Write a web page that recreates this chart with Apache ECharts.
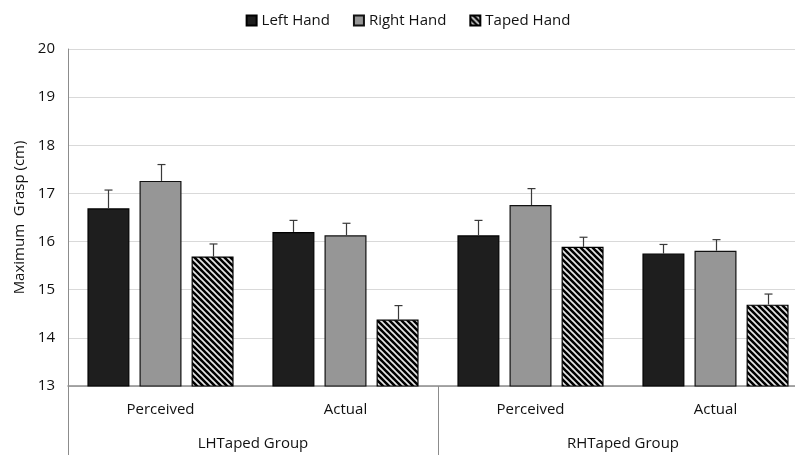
<!DOCTYPE html>
<html>
<head>
<meta charset="utf-8">
<script src="https://cdn.jsdelivr.net/npm/echarts@6/dist/echarts.min.js"></script>
<style>
html,body{margin:0;padding:0;background:#fff;overflow:hidden;width:795px;height:455px;}
#chart{width:816px;height:455px;}
</style>
</head>
<body>
<div id="chart"></div>
<script>
var categories = ['Perceived', 'Actual', 'Perceived', 'Actual'];
var groups = ['LHTaped Group', 'RHTaped Group'];
var seriesNames = ['Left Hand', 'Right Hand', 'Taped Hand'];
var leftHand = [16.69, 16.20, 16.13, 15.75];
var leftErr = [0.38, 0.24, 0.31, 0.19];
var rightHand = [17.26, 16.13, 16.76, 15.81];
var rightErr = [0.34, 0.25, 0.34, 0.23];
var tapedHand = [15.69, 14.38, 15.89, 14.69];
var tapedErr = [0.26, 0.29, 0.20, 0.22];
var yTicks = [13, 14, 15, 16, 17, 18, 19, 20];

var FONT = '"Open Sans", "Liberation Sans", sans-serif';
var BAR_W = 0.227;
var BAR_GAP = 0.24;

// stripe pattern for taped hand
var pc = document.createElement('canvas');
pc.width = 6; pc.height = 6;
var ctx = pc.getContext('2d');
ctx.fillStyle = '#000';
ctx.fillRect(0, 0, 6, 6);
ctx.strokeStyle = '#e6e6e6';
ctx.lineWidth = 1.7;
for (var o = -6; o <= 6; o += 6) {
  ctx.beginPath();
  ctx.moveTo(o - 1, -1);
  ctx.lineTo(o + 7, 7);
  ctx.stroke();
}

var chart = echarts.init(document.getElementById('chart'), null, {renderer: 'canvas'});

function errSeries(vals, errs, k) {
  return {
    type: 'custom',
    xAxisIndex: 0,
    yAxisIndex: 0,
    silent: true,
    z: 5,
    encode: {x: 0, y: 1},
    data: vals.map(function (v, i) { return [i, v, errs[i]]; }),
    renderItem: function (params, api) {
      var base = api.coord([api.value(0), api.value(1)]);
      var top = api.coord([api.value(0), api.value(1) + api.value(2)]);
      var band = api.size([1, 0])[0];
      var bw = band * BAR_W;
      var gap = bw * BAR_GAP;
      var x = Math.round(base[0] + (k - 1) * (bw + gap)) + 0.5;
      var style = {stroke: '#3a3a3a', lineWidth: 1.2};
      return {
        type: 'group',
        children: [
          {type: 'line', shape: {x1: x, y1: base[1], x2: x, y2: top[1]}, style: style},
          {type: 'line', shape: {x1: x - 4, y1: top[1], x2: x + 4, y2: top[1]}, style: style}
        ]
      };
    }
  };
}

var option = {
  animation: false,
  backgroundColor: '#fff',
  legend: {
    top: 8,
    left: 'center',
    itemWidth: 10,
    itemHeight: 10,
    itemGap: 23,
    icon: 'rect',
    data: seriesNames,
    textStyle: {fontFamily: FONT, fontSize: 15, color: '#111'}
  },
  grid: {left: 68, top: 49, width: 740, height: 337, containLabel: false},
  xAxis: [
    {
      type: 'category',
      data: categories,
      position: 'bottom',
      axisLine: {show: true, lineStyle: {color: '#8c8c8c', width: 1.5}},
      axisTick: {show: false},
      axisLabel: {fontFamily: FONT, fontSize: 15, color: '#111', margin: 16}
    },
    {
      type: 'category',
      data: groups,
      position: 'bottom',
      axisLine: {show: false},
      axisTick: {show: true, length: 70, lineStyle: {color: '#8c8c8c', width: 1}},
      axisLabel: {fontFamily: FONT, fontSize: 15, color: '#111', margin: 50}
    }
  ],
  yAxis: {
    type: 'value',
    min: yTicks[0],
    max: yTicks[yTicks.length - 1],
    interval: 1,
    name: 'Maximum  Grasp (cm)',
    nameLocation: 'middle',
    nameGap: 40,
    nameTextStyle: {fontFamily: FONT, fontSize: 15, color: '#111'},
    axisLine: {show: true, lineStyle: {color: '#8c8c8c', width: 1}},
    axisTick: {show: false},
    axisLabel: {fontFamily: FONT, fontSize: 15, color: '#111', margin: 13},
    splitLine: {show: true, lineStyle: {color: '#d9d9d9', width: 1}}
  },
  series: [
    {
      name: seriesNames[0], type: 'bar', data: leftHand,
      barWidth: (BAR_W * 100) + '%', barGap: (BAR_GAP * 100) + '%',
      itemStyle: {color: '#1e1e1e', borderColor: '#000', borderWidth: 1.2}
    },
    {
      name: seriesNames[1], type: 'bar', data: rightHand,
      barWidth: (BAR_W * 100) + '%', barGap: (BAR_GAP * 100) + '%',
      itemStyle: {color: '#969696', borderColor: '#111', borderWidth: 1.2}
    },
    {
      name: seriesNames[2], type: 'bar', data: tapedHand,
      barWidth: (BAR_W * 100) + '%', barGap: (BAR_GAP * 100) + '%',
      itemStyle: {color: {image: pc, repeat: 'repeat'}, borderColor: '#000', borderWidth: 1.2}
    },
    errSeries(leftHand, leftErr, 0),
    errSeries(rightHand, rightErr, 1),
    errSeries(tapedHand, tapedErr, 2)
  ]
};
chart.setOption(option);
</script>
</body>
</html>
